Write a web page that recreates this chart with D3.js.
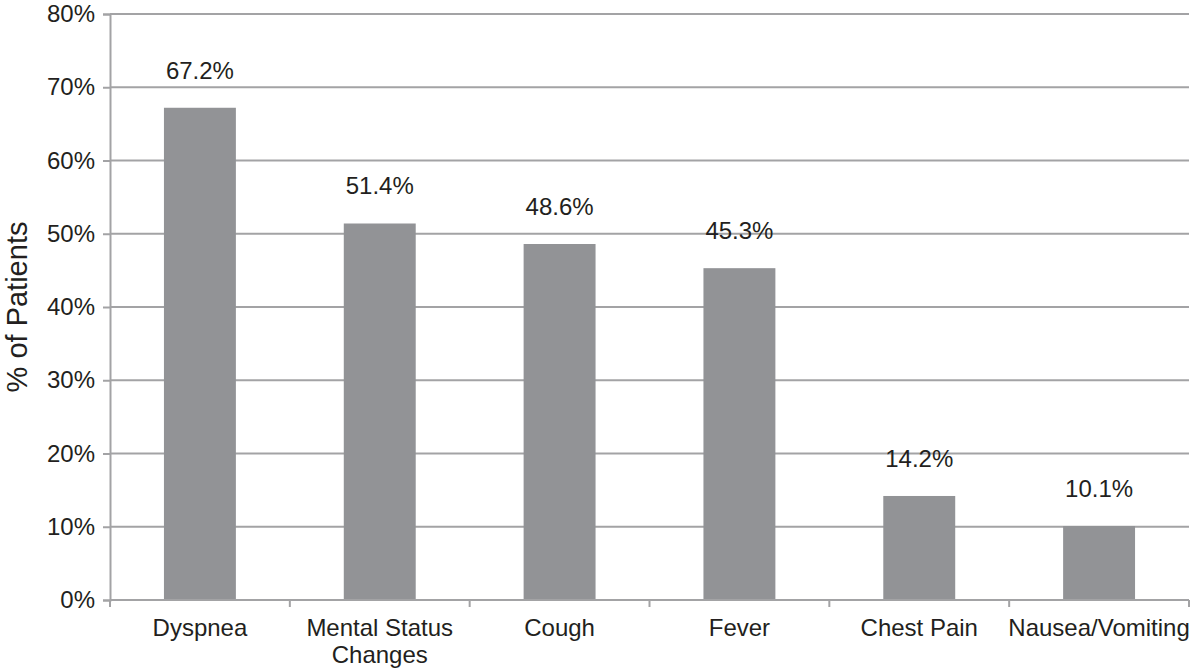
<!DOCTYPE html>
<html>
<head>
<meta charset="utf-8">
<script src="https://cdn.jsdelivr.net/npm/d3@7"></script>
<style>
  body { margin: 0; background: #fff; }
  text { font-family: "Liberation Sans", Arial, sans-serif; fill: #231f20; }
</style>
</head>
<body>
<div id="chart"></div>
<script>
// symptoms and share of patients (%)
const categories = ["Dyspnea", "Mental Status Changes", "Cough", "Fever", "Chest Pain", "Nausea/Vomiting"];
const values = [67.2, 51.4, 48.6, 45.3, 14.2, 10.1];
const yTicks = [0, 10, 20, 30, 40, 50, 60, 70, 80];

const width = 1200, height = 672;
const margin = {top: 14, right: 11, bottom: 72, left: 110};

const svg = d3.select("#chart").append("svg")
  .attr("width", width)
  .attr("height", height);

const x = d3.scaleBand()
  .domain(categories)
  .range([margin.left, width - margin.right])
  .paddingInner(0.6)
  .paddingOuter(0.3);

const y = d3.scaleLinear()
  .domain([0, 80])
  .range([height - margin.bottom, margin.top]);

const gridColor = "#a3a3a5";

// horizontal gridlines + y ticks
const yAxis = d3.axisLeft(y)
  .tickValues(yTicks)
  .tickFormat(d => d + "%")
  .tickSize(7)
  .tickPadding(8);

const gy = svg.append("g")
  .attr("transform", `translate(${margin.left},0)`)
  .call(yAxis);
gy.select(".domain").attr("stroke", gridColor).attr("stroke-width", 2);
gy.selectAll(".tick line").attr("stroke", gridColor).attr("stroke-width", 2);
gy.selectAll(".tick text").attr("font-size", 24).style("fill", "#231f20");

svg.append("g")
  .selectAll("line")
  .data(yTicks.slice(1))
  .join("line")
  .attr("x1", margin.left)
  .attr("x2", width - margin.right)
  .attr("y1", d => y(d))
  .attr("y2", d => y(d))
  .attr("stroke", gridColor)
  .attr("stroke-width", 2);

// bars
svg.append("g")
  .selectAll("rect")
  .data(values)
  .join("rect")
  .attr("x", (d, i) => x(categories[i]))
  .attr("y", d => y(d))
  .attr("width", x.bandwidth())
  .attr("height", d => y(0) - y(d))
  .attr("fill", "#929396");

// x axis baseline with ticks at category boundaries
const step = x.step();
const boundaries = d3.range(categories.length + 1).map(i => margin.left + i * step);
svg.append("line")
  .attr("x1", margin.left)
  .attr("x2", width - margin.right)
  .attr("y1", y(0))
  .attr("y2", y(0))
  .attr("stroke", gridColor)
  .attr("stroke-width", 2);
svg.append("g")
  .selectAll("line")
  .data(boundaries)
  .join("line")
  .attr("x1", d => d)
  .attr("x2", d => d)
  .attr("y1", y(0))
  .attr("y2", y(0) + 7)
  .attr("stroke", gridColor)
  .attr("stroke-width", 2);

// category labels (wrapped)
const wrapWidth = step - 2;
const catLabels = svg.append("g")
  .selectAll("text")
  .data(categories)
  .join("text")
  .attr("x", d => x(d) + x.bandwidth() / 2)
  .attr("y", y(0) + 36)
  .attr("text-anchor", "middle")
  .attr("font-size", 24);

catLabels.each(function(d) {
  const t = d3.select(this);
  const words = d.split(" ");
  let line = [];
  let tspan = t.append("tspan").attr("x", t.attr("x")).attr("dy", 0);
  words.forEach(w => {
    line.push(w);
    tspan.text(line.join(" "));
    if (tspan.node().getComputedTextLength() > wrapWidth && line.length > 1) {
      line.pop();
      tspan.text(line.join(" "));
      line = [w];
      tspan = t.append("tspan").attr("x", t.attr("x")).attr("dy", 27).text(w);
    }
  });
});

// value labels
svg.append("g")
  .selectAll("text")
  .data(values)
  .join("text")
  .attr("x", (d, i) => x(categories[i]) + x.bandwidth() / 2)
  .attr("y", d => y(d) - 29)
  .attr("text-anchor", "middle")
  .attr("font-size", 24)
  .text(d => d.toFixed(1) + "%");

// y axis title
svg.append("text")
  .attr("transform", `translate(27,${(y(0) + y(80)) / 2}) rotate(-90)`)
  .attr("text-anchor", "middle")
  .attr("font-size", 29)
  .text("% of Patients");
</script>
</body>
</html>
